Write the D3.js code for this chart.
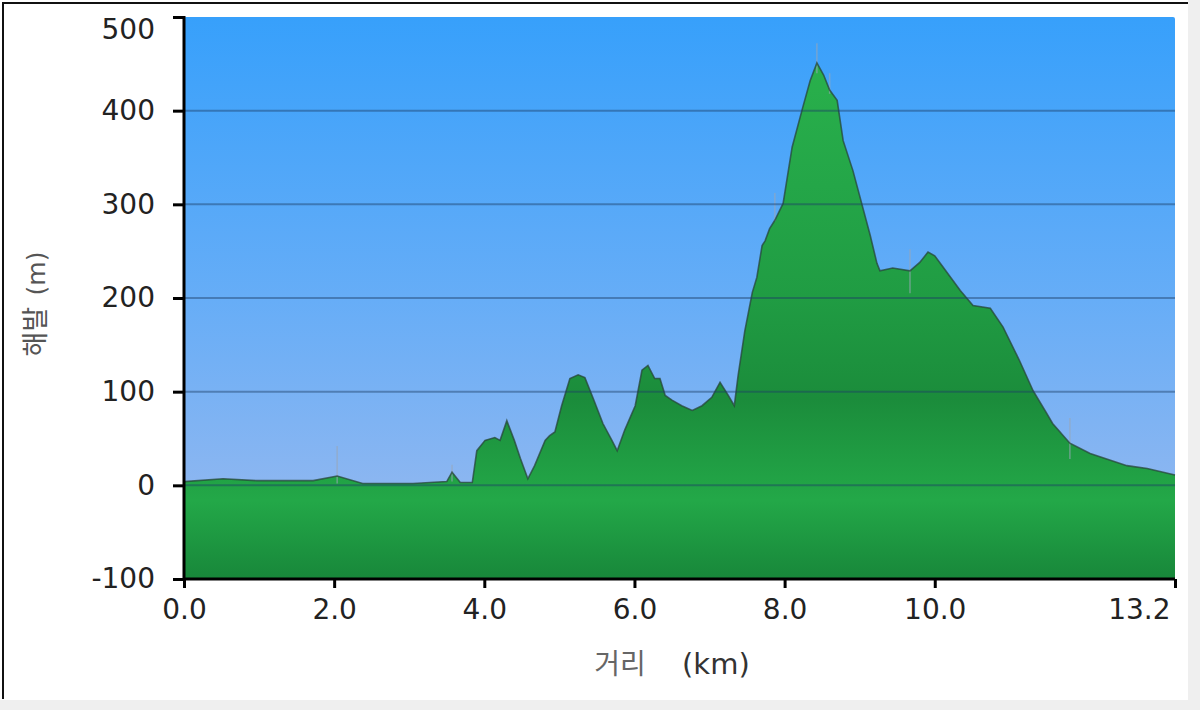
<!DOCTYPE html>
<html>
<head>
<meta charset="utf-8">
<script src="https://cdn.jsdelivr.net/npm/d3@7"></script>
<style>
  body { margin: 0; background: #efefef; }
  svg { display: block; }
</style>
</head>
<body>
<svg width="1200" height="710"></svg>
<script>
// distance (km) and elevation (m)
var distKm = [0, 0.52, 0.97, 1.72, 2.04, 2.38, 3.05, 3.50, 3.57, 3.68, 3.84, 3.90, 4.01, 4.14, 4.21, 4.30,
  4.40, 4.48, 4.58, 4.67, 4.81, 4.87, 4.94, 5.03, 5.14, 5.25, 5.34, 5.45, 5.58, 5.70, 5.77, 5.87,
  6.01, 6.10, 6.18, 6.27, 6.34, 6.41, 6.50, 6.63, 6.77, 6.90, 7.03, 7.14, 7.25, 7.33, 7.38, 7.47,
  7.57, 7.63, 7.70, 7.74, 7.80, 7.87, 7.98, 8.10, 8.24, 8.34, 8.43, 8.52, 8.60, 8.70, 8.78, 8.91,
  9.04, 9.14, 9.23, 9.27, 9.44, 9.67, 9.80, 9.91, 10.00, 10.11, 10.34, 10.51, 10.74, 10.91, 11.13,
  11.31, 11.49, 11.57, 11.80, 12.07, 12.33, 12.56, 12.83, 13.20];
var elevM = [4, 7, 5, 5, 10, 2, 2, 4, 14, 3, 3, 37, 48, 51, 48, 69,
  48, 29, 7, 21, 48, 53, 57, 85, 114, 118, 115, 93, 66, 48, 37, 59,
  85, 123, 128, 114, 114, 96, 91, 85, 80, 85, 94, 110, 96, 85, 117, 165,
  206, 222, 256, 261, 274, 283, 301, 361, 403, 432, 451, 438, 422, 411, 368, 336,
  297, 267, 237, 229, 232, 229, 238, 249, 245, 233, 208, 192, 189, 169, 133,
  101, 77, 66, 45, 34, 27, 21, 18, 11];

// faint GPS spikes visible over the profile: [km, low m, high m]
var spikes = [[2.04, 2, 42], [3.57, 4, 22], [7.87, 282, 312], [8.43, 440, 472], [8.60, 418, 440],
  [9.67, 205, 252], [11.80, 28, 72]];

var yTicks = [500, 400, 300, 200, 100, 0, -100];
var xTicks = [0, 2, 4, 6, 8, 10, 13.2];

var svg = d3.select("svg");
var pL = 184, pR = 1175, pT = 17, pB = 579;

var x = d3.scaleLinear().domain([0, 13.2]).range([pL, pR]);
var y = d3.scaleLinear().domain([-100, 500]).range([pB, pT]);

// page frame
svg.append("rect").attr("x", 0).attr("y", 0).attr("width", 1188).attr("height", 700).attr("fill", "#fff");
svg.append("path").attr("d", "M3,699V3H1188").attr("fill", "none").attr("stroke", "#111").attr("stroke-width", 2);

var defs = svg.append("defs");
var sky = defs.append("linearGradient").attr("id", "sky")
    .attr("gradientUnits", "userSpaceOnUse").attr("x1", 0).attr("x2", 0).attr("y1", pT).attr("y2", pB);
[[0, "#37a0fb"], [0.5, "#66adf7"], [0.83, "#8bb6f1"], [1, "#8bb6f1"]].forEach(function(s) {
  sky.append("stop").attr("offset", s[0]).attr("stop-color", s[1]);
});
var grass = defs.append("linearGradient").attr("id", "grass")
    .attr("gradientUnits", "userSpaceOnUse").attr("x1", 0).attr("x2", 0).attr("y1", pT).attr("y2", pB);
[[0, "#2bb44d"], [0.3, "#24a648"], [0.5, "#209c43"], [0.68, "#1b8c3b"], [0.86, "#23a848"], [1, "#18873a"]].forEach(function(s) {
  grass.append("stop").attr("offset", s[0]).attr("stop-color", s[1]);
});

svg.append("rect")
    .attr("x", pL).attr("y", pT).attr("width", pR - pL).attr("height", pB - pT)
    .attr("rx", 2).attr("fill", "url(#sky)");

var pts = distKm.map(function(d, i) { return [d, elevM[i]]; });

var area = d3.area()
    .x(function(d) { return x(d[0]); })
    .y0(pB)
    .y1(function(d) { return y(d[1]); });

var line = d3.line()
    .x(function(d) { return x(d[0]); })
    .y(function(d) { return y(d[1]); });

svg.append("path").datum(pts).attr("d", area).attr("fill", "url(#grass)");

svg.append("g").selectAll("line")
    .data(spikes)
    .enter().append("line")
      .attr("x1", function(d) { return x(d[0]); })
      .attr("x2", function(d) { return x(d[0]); })
      .attr("y1", function(d) { return y(d[1]); })
      .attr("y2", function(d) { return y(d[2]); })
      .attr("stroke", "#9aa6b8").attr("stroke-opacity", 0.6).attr("stroke-width", 1.5);

svg.append("path").datum(pts).attr("d", line)
    .attr("fill", "none").attr("stroke", "#27463a").attr("stroke-opacity", 0.75).attr("stroke-width", 1.6);

// grid lines over the profile
svg.append("g").selectAll("line")
    .data(yTicks.filter(function(t) { return t > -100 && t < 500; }))
    .enter().append("line")
      .attr("x1", pL).attr("x2", pR)
      .attr("y1", function(d) { return y(d); })
      .attr("y2", function(d) { return y(d); })
      .attr("stroke", "#1c3d66").attr("stroke-opacity", 0.45).attr("stroke-width", 2);

// axes
var yAxis = svg.append("g").attr("transform", "translate(" + pL + ",0)")
    .call(d3.axisLeft(y).tickValues(yTicks).tickSize(11).tickPadding(6).tickFormat(function(d) { return String(d); }));
var xAxis = svg.append("g").attr("transform", "translate(0," + pB + ")")
    .call(d3.axisBottom(x).tickValues(xTicks).tickSize(9).tickPadding(7).tickFormat(d3.format(".1f")));

[yAxis, xAxis].forEach(function(g) {
  g.select(".domain").attr("stroke", "#000").attr("stroke-width", 3);
  g.selectAll(".tick line").attr("stroke", "#000").attr("stroke-width", 3);
  g.selectAll("text").attr("fill", "#222").style("font-family", "DejaVu Sans, Verdana, sans-serif").style("font-size", "28px");
});
yAxis.select(".domain").attr("d", "M0," + (pT - 1) + "V" + (pB + 1));
yAxis.selectAll(".tick").filter(function(d) { return d === 500; }).select("text").attr("dy", "0.75em");
yAxis.selectAll(".tick text").attr("x", -29);
xAxis.select(".domain").attr("d", "M" + pL + ",0H" + pR);
xAxis.selectAll(".tick text").attr("y", 20);
xAxis.selectAll(".tick").filter(function(d) { return d === 13.2; }).select("text")
    .attr("text-anchor", "end").attr("x", -5);

// axis titles
var yt = svg.append("text")
    .attr("transform", "translate(45,304) rotate(-90)")
    .attr("text-anchor", "middle")
    .attr("fill", "#555")
    .style("font-family", "Noto Sans CJK KR, DejaVu Sans, sans-serif")
    .style("font-size", "27px");
yt.append("tspan").text("해발");
yt.append("tspan").attr("dx", "0.45em").style("font-family", "DejaVu Sans, sans-serif").style("font-size", "25px").text("(m)");

var xt = svg.append("text")
    .attr("x", 672).attr("y", 674)
    .attr("text-anchor", "middle")
    .style("font-family", "Noto Sans CJK KR, DejaVu Sans, sans-serif")
    .style("font-size", "28px");
xt.append("tspan").attr("fill", "#666").text("거리");
xt.append("tspan").attr("fill", "#333").attr("dx", "1.25em").style("font-family", "DejaVu Sans, sans-serif").style("font-size", "29px").text("(km)");
</script>
</body>
</html>
